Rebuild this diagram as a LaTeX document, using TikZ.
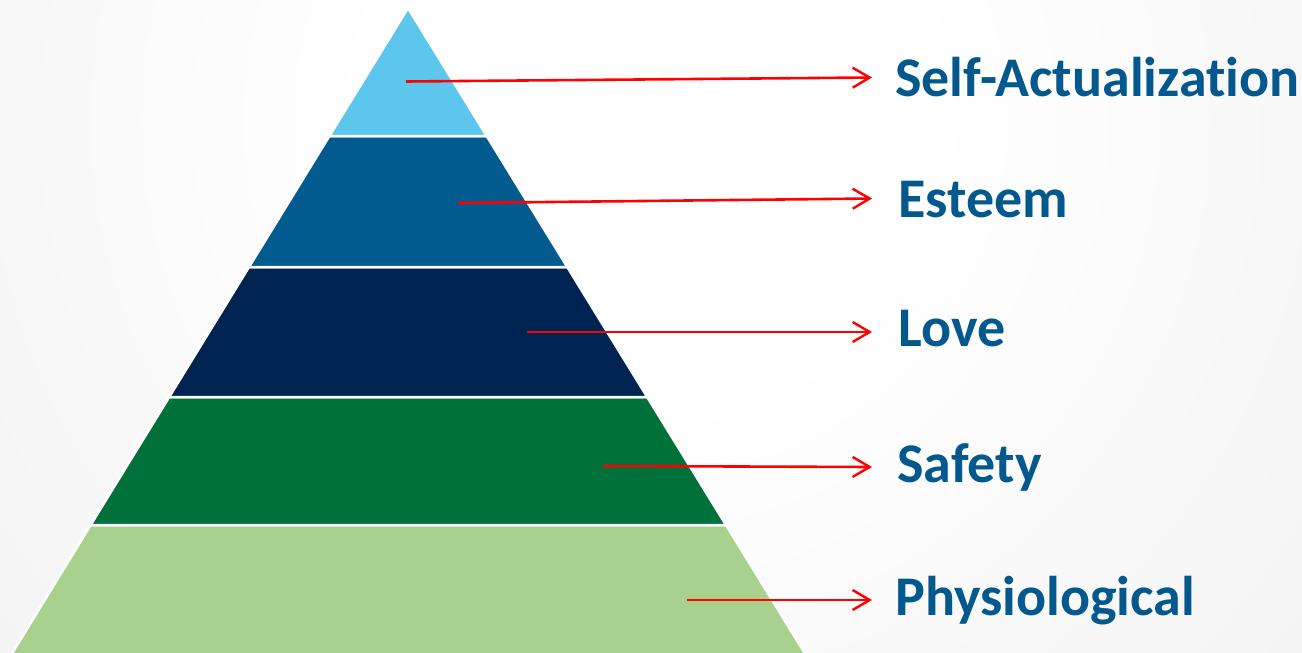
\documentclass[tikz,border=0pt]{standalone}
\usepackage{fontspec}
\setmainfont[Ligatures={NoCommon}]{Carlito}
\usetikzlibrary{arrows.meta}
\definecolor{bggray}{HTML}{E9E9E9}
\definecolor{cTop}{HTML}{5CC6EC}
\definecolor{cEst}{HTML}{025B8F}
\definecolor{cLove}{HTML}{002452}
\definecolor{cSafe}{HTML}{00713A}
\definecolor{cPhys}{HTML}{A9D18E}
\definecolor{txt}{HTML}{03588D}
\pgfdeclareradialshading{bgshade}{\pgfpoint{0bp}{0bp}}{color(0bp)=(white); color(5bp)=(white); color(25bp)=(bggray); color(50bp)=(bggray)}
\tikzset{
  layer/.style={draw=white, line width=2.5pt, line join=miter},
  lbl/.style={anchor=base west, inner sep=0pt, text=txt, font=\fontsize{56}{64}\selectfont\bfseries},
  redarrow/.style={draw=red, line width=2.6pt, -{Straight Barb[length=17pt,width=20pt,line width=2.4pt]}}
}
\begin{document}
\begin{tikzpicture}[x=1pt,y=-1pt]
\useasboundingbox (0,0) rectangle (1302,653);
\begin{scope}
\clip (0,0) rectangle (1302,653);
\fill[bggray] (0,0) rectangle (1302,653);
\shade[shading=bgshade] (650,120) circle (1400);
% pyramid layers
\filldraw[layer, fill=cPhys] (90.6,525) -- (726.0,525) -- (809,660) -- (8,660) -- cycle;
\filldraw[layer, fill=cSafe] (169.2,397) -- (647.2,397) -- (726.0,525) -- (90.6,525) -- cycle;
\filldraw[layer, fill=cLove] (249.0,267) -- (567.3,267) -- (647.2,397) -- (169.2,397) -- cycle;
\filldraw[layer, fill=cEst] (329.4,136) -- (486.7,136) -- (567.3,267) -- (249.0,267) -- cycle;
\filldraw[layer, fill=cTop] (408,8) -- (486.7,136) -- (329.4,136) -- cycle;
\end{scope}
% labels
\node[lbl] (sa) at (895,96) {Self-Actualization};
\node[lbl] (es) at (898,217) {Esteem};
\node[lbl] (lo) at (898,346) {Love};
\node[lbl] (sf) at (897,482) {Safety};
\node[lbl] (ph) at (895,615) {Physiological};
% arrow ends
\coordinate (s1) at (406,81.5);
\coordinate (e1) at (872,77.5);
\coordinate (s2) at (458,203);
\coordinate (e2) at (872,198.5);
\coordinate (s3) at (527,332);
\coordinate (e3) at (872,332);
\coordinate (s4) at (603,466);
\coordinate (e4) at (872,467);
\coordinate (s5) at (687,600);
\coordinate (e5) at (872,600);
\draw[redarrow] (s1) -- (e1);
\draw[redarrow] (s2) -- (e2);
\draw[redarrow] (s3) -- (e3);
\draw[redarrow] (s4) -- (e4);
\draw[redarrow] (s5) -- (e5);
\end{tikzpicture}
\end{document}
